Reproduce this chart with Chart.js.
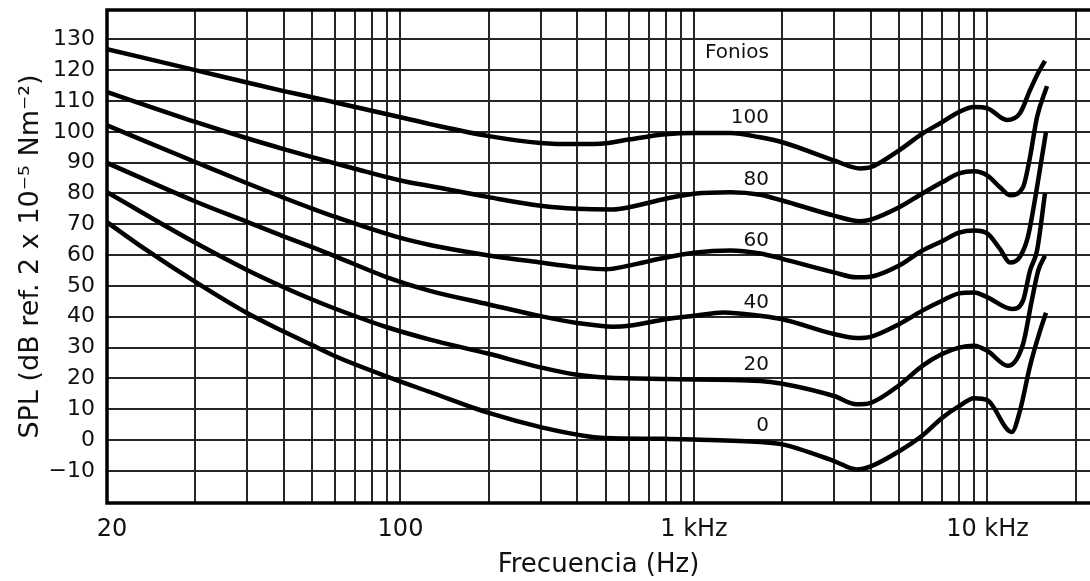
<!DOCTYPE html>
<html>
<head>
<meta charset="utf-8">
<script src="https://cdn.jsdelivr.net/npm/chart.js@4.4.1/dist/chart.umd.min.js"></script>
<style>
  html, body { margin: 0; padding: 0; background: #fff; }
  #wrap { width: 1090px; height: 581px; }
</style>
</head>
<body>
<div id="wrap"><canvas id="fonios" width="1090" height="581"></canvas></div>
<script>
// curvas de igual sonoridad (Hz, dB)
const phonLevels = [100, 80, 60, 40, 20, 0];

const hz100 = [10, 20, 30, 40, 50, 60, 100, 126, 200, 300, 400, 500, 600, 800, 1000, 1330, 1680, 2000, 3000, 3680, 4000, 5000, 6000, 7000, 8000, 9000, 10000, 11650, 12900, 13960, 14860, 15700];
const db100 = [126.8, 120, 116, 113.2, 111.2, 109.5, 104.7, 102.5, 98.6, 96.4, 96, 96.3, 97.5, 99.2, 99.6, 99.6, 98.2, 96.6, 90.7, 88.1, 88.5, 94, 99.4, 103.1, 106.4, 108, 107.6, 103.8, 106, 113.5, 119, 123];

const hz80 = [10, 20, 30, 40, 50, 70, 100, 126, 200, 300, 400, 530, 600, 800, 1000, 1330, 1680, 2000, 3000, 3680, 4000, 5000, 6000, 7000, 8000, 9000, 10000, 11030, 11930, 13210, 13960, 14750, 15950];
const db80 = [112.9, 103.2, 97.9, 94.4, 91.8, 88, 84.2, 82.4, 78.8, 76, 75, 74.8, 75.5, 78.3, 79.9, 80.4, 79.6, 77.7, 72.8, 71, 71.5, 75.5, 80, 83.6, 86.5, 87.2, 85.8, 82, 79.4, 82, 91.8, 104.8, 114.8];

const hz60 = [10, 20, 30, 40, 50, 60, 100, 126, 200, 300, 400, 500, 600, 800, 1000, 1330, 1680, 2000, 3000, 3580, 4000, 5000, 6000, 7000, 8000, 9000, 10000, 11030, 11930, 12900, 13740, 14510, 15220, 15830];
const db60 = [102.1, 90.2, 83.3, 78.6, 75.1, 72.4, 65.6, 63.3, 59.9, 57.6, 56.1, 55.4, 56.6, 59.2, 60.8, 61.5, 60.5, 58.8, 54.4, 52.8, 53, 56.6, 61.5, 64.5, 67.3, 68, 67, 62, 57.6, 59.5, 66, 78, 90, 100];

const hz40 = [10, 20, 30, 40, 50, 60, 90, 126, 200, 300, 400, 530, 600, 800, 1000, 1260, 1680, 2000, 3000, 3580, 4000, 5000, 6000, 7000, 8000, 9000, 10000, 12120, 13210, 13960, 14750, 15700];
const db40 = [89.9, 77.4, 70.8, 66.1, 62.6, 59.6, 52.8, 48.4, 44, 40.2, 38, 36.8, 37.1, 39.2, 40.3, 41.4, 40.3, 39.2, 34.4, 33.1, 33.5, 37.6, 42, 45.2, 47.6, 47.9, 46.3, 42.5, 45.2, 55, 61.5, 80];

const hz20 = [10, 20, 30, 40, 50, 60, 90, 126, 200, 300, 400, 500, 800, 1680, 2000, 3000, 3580, 4000, 5000, 6000, 7000, 8000, 9000, 10000, 11740, 13210, 14150, 14890, 15700];
const db20 = [80.4, 64, 55.2, 49.6, 45.6, 42.6, 36.6, 32.6, 28, 23.6, 21.2, 20.3, 19.8, 19.2, 18.3, 14.3, 11.6, 12.1, 17.8, 24.1, 27.9, 30, 30.6, 28.9, 24.1, 31.1, 45.2, 55, 59.8];

const hz0 = [10, 13.65, 20, 30, 40, 50, 60, 90, 126, 200, 300, 450, 500, 800, 1000, 1680, 2000, 3000, 3580, 4000, 5000, 6000, 7000, 8000, 9000, 10000, 12100, 12900, 13960, 15100, 15830];
const db0 = [70.7, 61.6, 51.3, 41.2, 35.2, 30.8, 27.2, 20.6, 15.6, 8.8, 4.2, 1, 0.7, 0.4, 0.2, -0.6, -1.4, -6.8, -9.5, -8.5, -3.6, 1.5, 7.2, 11, 13.6, 12.9, 2.6, 9.5, 24, 35.4, 41.3];

// rejilla y rotulos
const gridHz = [10, 20, 30, 40, 50, 60, 70, 80, 90,
  100, 200, 300, 400, 500, 600, 700, 800, 900,
  1000, 2000, 3000, 4000, 5000, 6000, 7000, 8000, 9000,
  10000, 20000];
const tickHz = [10.4, 100, 1000, 10000];
const tickText = ['20', '100', '1 kHz', '10 kHz'];
const dbTicks = [-10, 0, 10, 20, 30, 40, 50, 60, 70, 80, 90, 100, 110, 120, 130];

const curves = [[hz100, db100], [hz80, db80], [hz60, db60], [hz40, db40], [hz20, db20], [hz0, db0]];

const FONT = 'DejaVu Sans';
const INK = '#111';
const X_MIN = 10, X_MAX = 22350;

const marco = {
  id: 'marco',
  beforeDatasetsDraw(chart) {
    const { ctx, chartArea: a } = chart;
    ctx.save();
    ctx.strokeStyle = '#000';
    ctx.lineWidth = 3.5;
    ctx.beginPath();
    ctx.moveTo(a.right + 4, a.top);
    ctx.lineTo(a.left, a.top);
    ctx.lineTo(a.left, a.bottom);
    ctx.lineTo(a.right + 4, a.bottom);
    ctx.stroke();
    ctx.restore();
  }
};

const etiquetas = {
  id: 'etiquetas',
  afterDatasetsDraw(chart) {
    const { ctx, scales: { x, y } } = chart;
    ctx.save();
    ctx.font = '20px "' + FONT + '"';
    ctx.fillStyle = INK;
    ctx.textAlign = 'right';
    ctx.textBaseline = 'middle';
    const px = x.getPixelForValue(1800);
    ctx.fillText('Fonios', px, y.getPixelForValue(125.5));
    phonLevels.forEach(p => ctx.fillText(String(p), px, y.getPixelForValue(p + 4.5)));
    ctx.restore();
  }
};

new Chart(document.getElementById('fonios'), {
  type: 'line',
  data: {
    datasets: curves.map(([hz, db], i) => ({
      label: phonLevels[i] + ' fonios',
      data: hz.map((f, k) => ({ x: f, y: db[k] })),
      borderColor: '#000',
      borderWidth: 4.5,
      pointRadius: 0,
      cubicInterpolationMode: 'monotone',
      fill: false
    }))
  },
  options: {
    responsive: false,
    animation: false,
    devicePixelRatio: 1,
    layout: { padding: { top: 10, left: 0, right: 0, bottom: 0 } },
    plugins: { legend: { display: false }, tooltip: { enabled: false } },
    scales: {
      x: {
        type: 'logarithmic',
        position: 'bottom',
        min: X_MIN,
        max: X_MAX,
        afterBuildTicks: s => { s.ticks = gridHz.map(v => ({ value: v })); },
        afterFit: s => { s.height = 0; s.paddingLeft = 0; s.paddingRight = 0; },
        ticks: { display: false },
        grid: { color: '#262626', lineWidth: 2, drawTicks: false },
        border: { display: false }
      },
      xLabels: {
        axis: 'x',
        type: 'logarithmic',
        position: 'bottom',
        min: X_MIN,
        max: X_MAX,
        afterBuildTicks: s => { s.ticks = tickHz.map(v => ({ value: v })); },
        afterFit: s => { s.height = 78; s.paddingLeft = 0; s.paddingRight = 0; },
        ticks: {
          autoSkip: false,
          maxRotation: 0,
          minRotation: 0,
          padding: 12,
          color: INK,
          font: { family: FONT, size: 24 },
          callback: (v, i) => tickText[i]
        },
        grid: { display: false, drawTicks: false },
        border: { display: false },
        title: {
          display: true,
          text: 'Frecuencia (Hz)',
          color: INK,
          font: { family: FONT, size: 26 },
          padding: { top: 0, bottom: 0 }
        }
      },
      y: {
        min: -20.4,
        max: 139.5,
        afterBuildTicks: s => { s.ticks = dbTicks.map(v => ({ value: v })); },
        afterFit: s => { s.width = 107; s.paddingTop = 0; s.paddingBottom = 0; },
        ticks: {
          padding: 12,
          color: INK,
          font: { family: FONT, size: 22 },
          callback: v => String(v).replace('-', '\u2212')
        },
        grid: { color: '#262626', lineWidth: 2, drawTicks: false },
        border: { display: false },
        title: {
          display: true,
          text: 'SPL (dB ref. 2 x 10\u207B\u2075 Nm\u207B\u00B2)',
          color: INK,
          font: { family: FONT, size: 27 },
          padding: { top: 15, bottom: 0 }
        }
      }
    }
  },
  plugins: [marco, etiquetas]
});
</script>
</body>
</html>
